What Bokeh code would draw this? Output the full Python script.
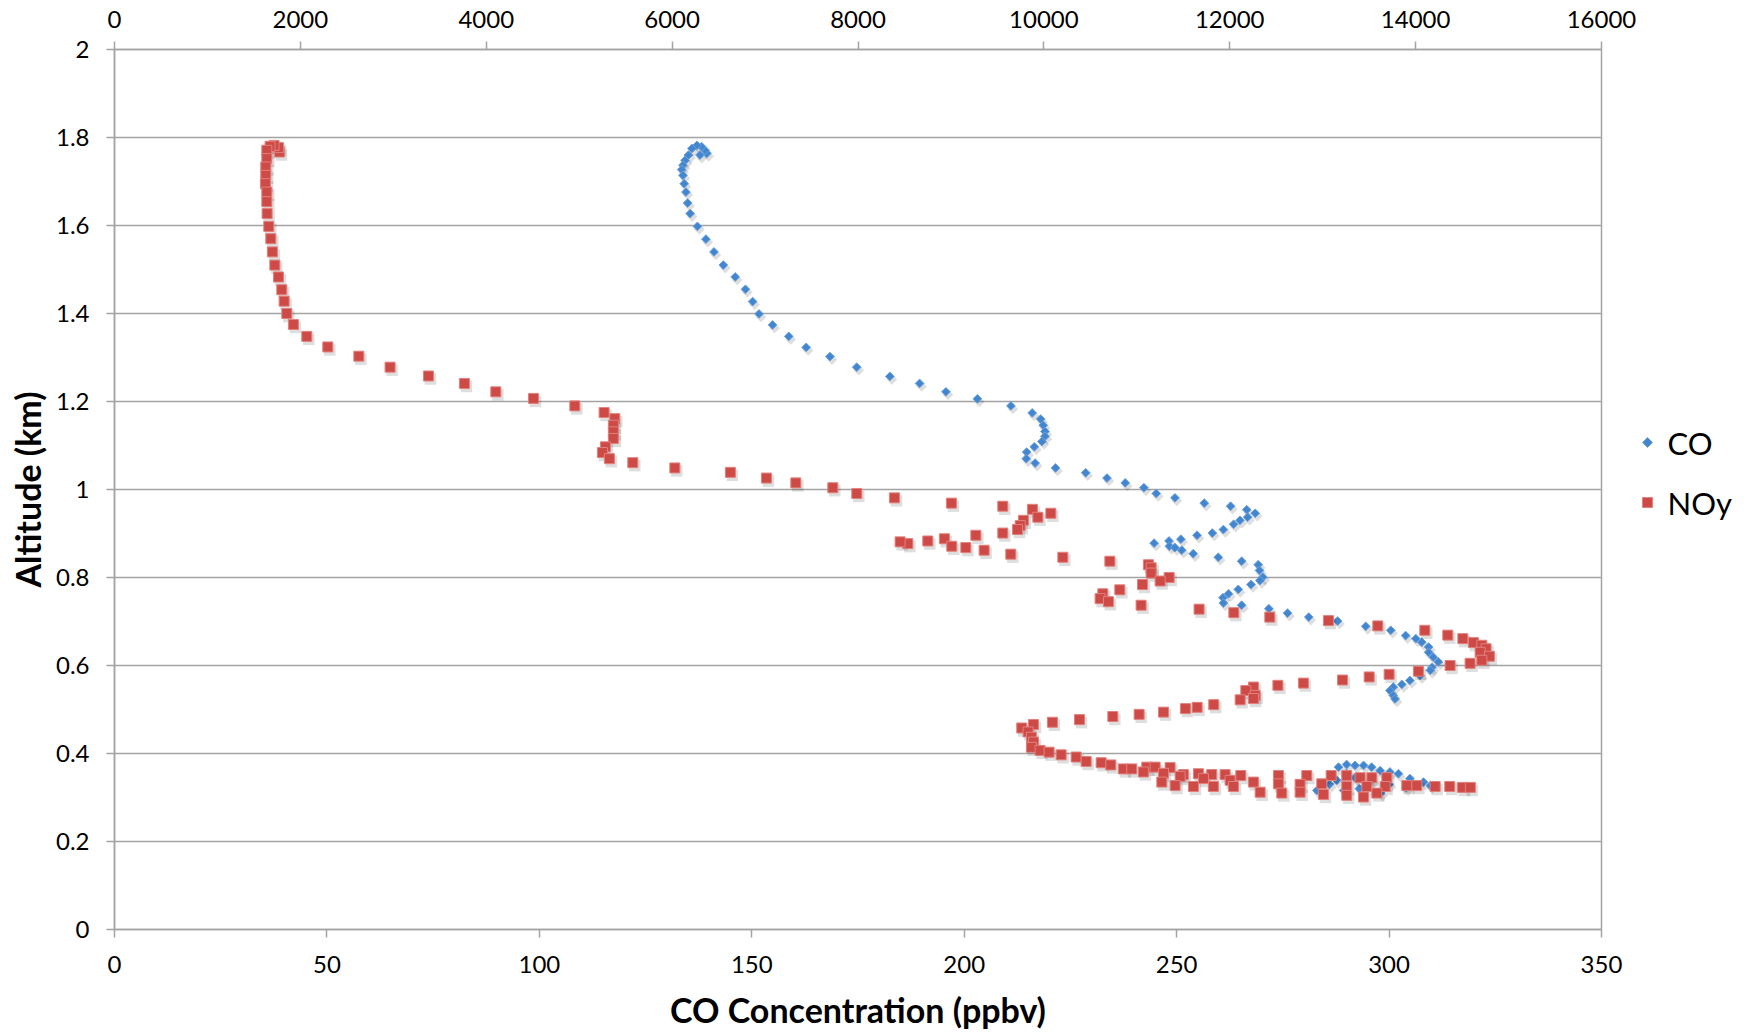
import numpy as np
from bokeh.plotting import figure
from bokeh.layouts import row
from bokeh.models import (Range1d, LinearAxis, SingleIntervalTicker, CustomJSTickFormatter,
                          ColumnDataSource)
from bokeh.core.properties import value
from bokeh.embed import file_html
from bokeh.resources import INLINE

# ---------------- data ----------------
# CO concentration (ppbv, bottom axis) and altitude (km)
co_ppbv = [139.4, 139.0, 138.2, 137.1, 135.9, 137.8, 135.1, 134.3, 133.8, 133.5, 133.8, 134.1,
           134.5, 134.9, 135.5, 137.2, 139.2, 141.1, 143.3, 146.1, 148.5, 150.2, 151.7, 154.9,
           158.7, 162.8, 168.4, 174.7, 182.5, 189.5, 195.7, 203.1, 211.0, 216.0, 218.0, 218.6,
           219.0, 219.0, 218.3, 216.5, 214.7, 214.6, 216.7, 221.5, 228.6, 233.6, 237.9, 242.3,
           245.2, 249.6, 256.5, 262.7, 266.5, 268.5, 266.7, 264.9, 263.4, 261.0, 258.4, 254.8,
           251.0, 248.2, 244.7, 248.3, 249.6, 251.2, 253.9, 259.8, 265.3, 269.2, 269.5, 270.3,
           269.6, 267.5, 264.5, 262.2, 260.9, 261.0, 265.3, 271.7, 276.1, 281.1, 287.9, 294.5,
           300.4, 303.9, 306.3, 307.7, 309.3, 309.3, 310.4, 311.6, 310.1, 309.7, 307.3, 304.9,
           303.0, 301.0, 300.2, 301.0, 301.4,
           288.1, 290.0, 292.0, 294.0, 295.9, 297.9, 300.2, 302.2, 304.9, 308.1, 309.7, 287.7,
           289.3, 283.0, 292.0, 296.0, 300.0, 293.0, 298.0, 304.0, 290.0, 286.0]
co_alt = [1.764, 1.771, 1.779, 1.782, 1.775, 1.760, 1.760, 1.748, 1.737, 1.727, 1.714, 1.695,
          1.676, 1.651, 1.627, 1.598, 1.569, 1.540, 1.510, 1.483, 1.455, 1.427, 1.399, 1.374,
          1.348, 1.323, 1.302, 1.278, 1.257, 1.241, 1.222, 1.206, 1.190, 1.174, 1.160, 1.146,
          1.132, 1.121, 1.109, 1.097, 1.085, 1.070, 1.060, 1.049, 1.038, 1.026, 1.015, 1.004,
          0.991, 0.981, 0.969, 0.962, 0.954, 0.946, 0.937, 0.930, 0.921, 0.909, 0.901, 0.896,
          0.887, 0.883, 0.878, 0.871, 0.868, 0.862, 0.854, 0.846, 0.837, 0.829, 0.816, 0.801,
          0.793, 0.784, 0.773, 0.763, 0.754, 0.742, 0.737, 0.729, 0.719, 0.710, 0.701, 0.689,
          0.680, 0.668, 0.661, 0.653, 0.642, 0.630, 0.619, 0.608, 0.596, 0.589, 0.577, 0.566,
          0.557, 0.551, 0.543, 0.532, 0.524,
          0.369, 0.375, 0.373, 0.373, 0.369, 0.361, 0.358, 0.354, 0.343, 0.335, 0.327, 0.339,
          0.316, 0.316, 0.345, 0.340, 0.330, 0.320, 0.310, 0.322, 0.355, 0.330]

# NOy (top axis, 0-16000) and altitude (km)
noy_val = [1775, 1764, 1717, 1674, 1639, 1639, 1628, 1628, 1624, 1639, 1639, 1642, 1660, 1682,
           1699, 1725, 1764, 1800, 1825, 1854, 1925, 2069, 2295, 2629, 2965, 3378, 3765, 4103,
           4508, 4953, 5268, 5383, 5368, 5368, 5368, 5282, 5250, 5325, 5577, 6029, 6627, 7015,
           7331, 7729, 7987, 8392, 9005, 9558, 9877, 10075, 9935, 9780, 9745, 9716, 9558, 9268,
           8930, 8751, 8536, 8453, 9009, 9160, 9357, 9644, 10204, 10710, 11125, 11154, 11154,
           11348, 11251, 11061, 10817, 10634, 10605, 10695, 11046, 11670, 12044, 12431, 13062,
           13593, 14099, 14346, 14508, 14622, 14712, 14758, 14694, 14794, 14712, 14586, 14371,
           14030, 13715, 13500, 13213, 12793, 12518, 12255, 12173, 12273, 12255, 12112, 11828,
           11649, 11523, 11287, 11025, 10742, 10383, 10092, 9888, 9762, 9830, 9866, 9888, 9866,
           9959, 10056, 10186, 10347, 10455, 10616, 10720,
           10856, 10946, 11107, 11197, 11358, 11501, 11663, 11806, 11950, 12119, 12524, 12829,
           13091, 13259, 13403, 13529, 13690,
           11071, 11287, 11466, 11717, 12004, 12255, 12524, 12757, 12990, 13259, 13475, 13672,
           13905, 14013, 14210, 14367, 14503, 14589,
           11269, 11412, 11609, 11824, 12040, 12327, 12560, 12757, 13008, 13259, 13439, 13583]
noy_alt = [1.767, 1.777, 1.782, 1.780, 1.771, 1.752, 1.733, 1.714, 1.695, 1.676, 1.654, 1.627,
           1.598, 1.570, 1.540, 1.510, 1.483, 1.454, 1.428, 1.400, 1.375, 1.348, 1.324, 1.303,
           1.278, 1.258, 1.241, 1.222, 1.207, 1.190, 1.175, 1.161, 1.146, 1.131, 1.116, 1.097,
           1.084, 1.070, 1.061, 1.049, 1.039, 1.026, 1.015, 1.004, 0.991, 0.981, 0.969, 0.962,
           0.955, 0.946, 0.937, 0.930, 0.918, 0.909, 0.901, 0.896, 0.888, 0.883, 0.877, 0.881,
           0.871, 0.868, 0.862, 0.853, 0.846, 0.837, 0.829, 0.822, 0.810, 0.800, 0.792, 0.784,
           0.772, 0.763, 0.752, 0.745, 0.737, 0.728, 0.720, 0.710, 0.702, 0.690, 0.680, 0.669,
           0.661, 0.652, 0.646, 0.638, 0.630, 0.621, 0.612, 0.605, 0.600, 0.587, 0.580, 0.574,
           0.567, 0.560, 0.555, 0.551, 0.543, 0.532, 0.525, 0.522, 0.511, 0.505, 0.502, 0.494,
           0.489, 0.484, 0.477, 0.471, 0.466, 0.458, 0.449, 0.437, 0.426, 0.414, 0.407, 0.403,
           0.397, 0.392, 0.382, 0.379, 0.374,
           0.365, 0.365, 0.369, 0.369, 0.368, 0.352, 0.354, 0.352, 0.352, 0.350, 0.350, 0.350,
           0.350, 0.350, 0.345, 0.345, 0.345,
           0.358, 0.355, 0.348, 0.343, 0.339, 0.335, 0.331, 0.330, 0.331, 0.325, 0.325, 0.325,
           0.327, 0.327, 0.325, 0.325, 0.323, 0.323,
           0.335, 0.327, 0.325, 0.325, 0.325, 0.312, 0.310, 0.312, 0.307, 0.305, 0.301, 0.310]

series_names = ["CO", "NOy"]
co_range = (0, 350)
noy_range = (0, 16000)
alt_range = (0, 2)

# ---------------- layout constants ----------------
W, H = 1752, 1033
BL, BT, FW, FH = 114, 49, 1487, 880
BR = 39
PW = BL + FW + BR            # main figure width (room for the last tick labels)
LW = W - PW                  # legend strip width
BB = H - BT - FH

GRAY = "#a3a3a3"
CO_FILL, CO_LINE = "#4386d0", "#6ea2dd"
NOY_FILL, NOY_LINE = "#cd4a46", "#e2817d"
FONT = "Lato"

p = figure(width=PW, height=H, output_backend="svg", toolbar_location=None,
           x_range=Range1d(*co_range), y_range=Range1d(*alt_range),
           min_border_left=BL, min_border_right=BR, min_border_top=BT, min_border_bottom=BB,
           x_axis_label="CO Concentration (ppbv)", y_axis_label="Altitude (km)")
p.extra_x_ranges = {"noy": Range1d(*noy_range)}
p.background_fill_color = "white"
p.border_fill_color = "white"
p.outline_line_color = GRAY
p.outline_line_width = 1.5


def style_axis(ax, standoff):
    ax.axis_line_color = GRAY
    ax.axis_line_width = 1.5
    ax.major_tick_line_color = GRAY
    ax.major_tick_line_width = 1.5
    ax.major_tick_out = 8
    ax.major_tick_in = 0
    ax.minor_tick_line_color = None
    ax.major_label_text_font = FONT
    ax.major_label_text_font_size = "24px"
    ax.major_label_text_color = "#000000"
    ax.major_label_standoff = standoff
    ax.axis_label_text_font = FONT
    ax.axis_label_text_font_style = "bold"
    ax.axis_label_text_font_size = "34px"
    ax.axis_label_text_color = "#000000"


xax = p.xaxis[0]
xax.ticker = SingleIntervalTicker(interval=50, num_minor_ticks=0)
style_axis(xax, 18)
xax.axis_label_standoff = 13

yax = p.yaxis[0]
yax.ticker = SingleIntervalTicker(interval=0.2, num_minor_ticks=0)
yax.formatter = CustomJSTickFormatter(code="return (Math.round(tick*10)/10).toString();")
style_axis(yax, 17)
yax.axis_label_standoff = 5

top = LinearAxis(x_range_name="noy", ticker=SingleIntervalTicker(interval=2000, num_minor_ticks=0))
style_axis(top, 14)
p.add_layout(top, "above")

p.xgrid.visible = False
p.ygrid.ticker = yax.ticker
p.ygrid.grid_line_color = GRAY
p.ygrid.grid_line_width = 1.5

# soft drop shadows (pixel offsets converted into data units)
sdx_px, sdy_px = 2.0, 3.0
co_dx = sdx_px * (co_range[1] - co_range[0]) / FW
noy_dx = sdx_px * (noy_range[1] - noy_range[0]) / FW
alt_dy = sdy_px * (alt_range[1] - alt_range[0]) / FH

co_src = ColumnDataSource(dict(x=co_ppbv, y=co_alt))
noy_src = ColumnDataSource(dict(x=noy_val, y=noy_alt))
co_sh = ColumnDataSource(dict(x=np.array(co_ppbv) + co_dx, y=np.array(co_alt) - alt_dy))
noy_sh = ColumnDataSource(dict(x=np.array(noy_val) + noy_dx, y=np.array(noy_alt) - alt_dy))

p.scatter("x", "y", source=co_sh, marker="square", angle=np.pi / 4, size=7.5,
          fill_color="black", fill_alpha=0.13, line_color=None)
p.scatter("x", "y", source=co_src, marker="square", angle=np.pi / 4, size=6.2,
          fill_color=CO_FILL, line_color=CO_LINE, line_width=1)
p.scatter("x", "y", source=noy_sh, marker="square", size=11.5, x_range_name="noy",
          fill_color="black", fill_alpha=0.13, line_color=None)
p.scatter("x", "y", source=noy_src, marker="square", size=10, x_range_name="noy",
          fill_color=NOY_FILL, line_color=NOY_LINE, line_width=1)

# ---------------- legend strip (frame aligned with the main frame; y in page pixels) ----------------
lg = figure(width=LW, height=H, output_backend="svg", toolbar_location=None,
            x_range=Range1d(0, LW), y_range=Range1d(BT + FH, BT),
            min_border_left=0, min_border_right=0, min_border_top=BT, min_border_bottom=BB)
lg.axis.visible = False
lg.grid.visible = False
lg.outline_line_color = None
lg.background_fill_color = "white"
lg.border_fill_color = "white"

key_x = 1647 - PW
lab_x = 1667 - PW
key_y = [442, 502]
lg.scatter([key_x], [key_y[0]], marker="square", angle=np.pi / 4, size=7,
           fill_color=CO_FILL, line_color=CO_LINE, line_width=1)
lg.scatter([key_x], [key_y[1]], marker="square", size=10,
           fill_color=NOY_FILL, line_color=NOY_LINE, line_width=1)
lg.text(x=[lab_x, lab_x], y=key_y, text=series_names, text_font=value(FONT),
        text_font_size="31px", text_baseline="middle", text_align="left", text_color="#000000")

layout = row(p, lg, spacing=0)
open("out.html", "w").write(file_html(layout, INLINE))
